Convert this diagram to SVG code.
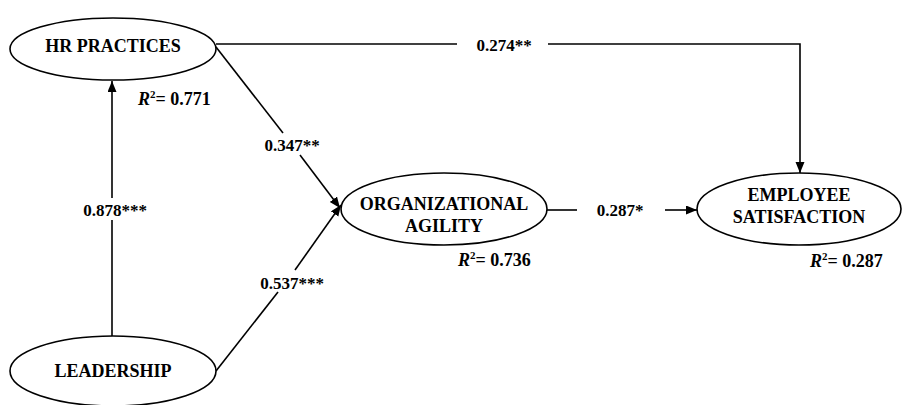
<svg xmlns="http://www.w3.org/2000/svg" width="902" height="405" viewBox="0 0 902 405">
  <style>
    .node ellipse { fill: #ffffff; stroke: #000000; stroke-width: 1.6; }
    .lbl { font-family: "Liberation Serif", "Times New Roman", serif; font-weight: bold; font-size: 18px; fill: #000000; text-anchor: middle; }
    .coef { font-family: "Liberation Serif", "Times New Roman", serif; font-weight: bold; font-size: 17px; fill: #000000; text-anchor: middle; }
    .rsq { font-family: "Liberation Serif", "Times New Roman", serif; font-weight: bold; font-size: 18px; fill: #000000; }
    .edge { fill: none; stroke: #000000; stroke-width: 1.6; }
  </style>
  <defs>
    <marker id="arrow" markerUnits="userSpaceOnUse" markerWidth="12" markerHeight="10" refX="11" refY="4.5" orient="auto">
      <path d="M0,0 L11,4.5 L0,9 z" fill="#000000"/>
    </marker>
  </defs>
  <rect width="902" height="405" fill="#ffffff"/>

  <!-- connectors -->
  <g id="connectors">
    <!-- HR practices to employee satisfaction -->
    <path class="edge" d="M216,44 H457"/>
    <path class="edge" d="M548,44 H800 V173" marker-end="url(#arrow)"/>
    <text class="coef" x="504" y="51">0.274**</text>
    <!-- HR practices to organizational agility -->
    <path class="edge" d="M216,47 L283,133"/>
    <path class="edge" d="M300,155 L340,208" marker-end="url(#arrow)"/>
    <text class="coef" x="292" y="151">0.347**</text>
    <!-- leadership to organizational agility -->
    <path class="edge" d="M216,371 L278,292"/>
    <path class="edge" d="M295,270 L341,205" marker-end="url(#arrow)"/>
    <text class="coef" x="292" y="289">0.537***</text>
    <!-- leadership to HR practices -->
    <path class="edge" d="M112,336 V220"/>
    <path class="edge" d="M112,198 V81" marker-end="url(#arrow)"/>
    <text class="coef" x="115" y="216">0.878***</text>
    <!-- organizational agility to employee satisfaction -->
    <path class="edge" d="M547,210 H577"/>
    <path class="edge" d="M665,210 H697" marker-end="url(#arrow)"/>
    <text class="coef" x="620" y="216">0.287*</text>
  </g>

  <g id="hr-practices" class="node">
    <ellipse cx="113" cy="49" rx="103" ry="31"/>
    <text class="lbl" x="113" y="52">HR PRACTICES</text>
    <text class="rsq" x="138" y="105"><tspan font-style="italic">R</tspan><tspan font-size="11" dy="-7">2</tspan><tspan dy="7">= 0.771</tspan></text>
  </g>

  <g id="organizational-agility" class="node">
    <ellipse cx="444" cy="209" rx="103" ry="36"/>
    <text class="lbl" x="444" y="210">ORGANIZATIONAL</text>
    <text class="lbl" x="444" y="232">AGILITY</text>
    <text class="rsq" x="458" y="266"><tspan font-style="italic">R</tspan><tspan font-size="11" dy="-7">2</tspan><tspan dy="7">= 0.736</tspan></text>
  </g>

  <g id="employee-satisfaction" class="node">
    <ellipse cx="799" cy="209" rx="102" ry="36"/>
    <text class="lbl" x="799" y="201">EMPLOYEE</text>
    <text class="lbl" x="799" y="223">SATISFACTION</text>
    <text class="rsq" x="810" y="267"><tspan font-style="italic">R</tspan><tspan font-size="11" dy="-7">2</tspan><tspan dy="7">= 0.287</tspan></text>
  </g>

  <g id="leadership" class="node">
    <ellipse cx="113" cy="371" rx="103" ry="35"/>
    <text class="lbl" x="113" y="377">LEADERSHIP</text>
  </g>
</svg>
